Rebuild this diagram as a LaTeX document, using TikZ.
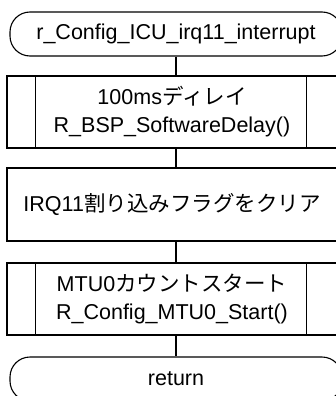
\documentclass[tikz,border=0pt]{standalone}
\usepackage{fontspec}
\setmainfont{Liberation Sans}
\newfontfamily\jp[Scale=1.0]{Noto Sans CJK JP}
\begin{document}
\begin{tikzpicture}[x=1pt,y=-1pt,
  every node/.style={font=\fontsize{21.5}{28}\selectfont, inner sep=0pt, align=center},
  term/.style={draw, line width=1.1pt, rounded corners=20pt, minimum width=332pt, minimum height=44pt},
  procbox/.style={draw, line width=1.1pt, minimum width=330pt},
  conn/.style={line width=1.1pt}]
\useasboundingbox (0,0) rectangle (336,396);
\clip (0,0) rectangle (336,396);
\fill[white] (0,0) rectangle (336,396);
\coordinate (cx) at (176,0);
\node[term] (t1) at (176,34) {r\_Config\_ICU\_irq11\_interrupt};
\node[procbox, minimum height=72pt] (b1) at (172,112) {100ms{\jp ディレイ}\\R\_BSP\_SoftwareDelay()};
\node[procbox, minimum height=73pt] (b2) at (172,204.5) {IRQ11{\jp 割り込みフラグをクリア}};
\node[procbox, minimum height=72pt] (b3) at (172,299) {MTU0{\jp カウントスタート}\\R\_Config\_MTU0\_Start()};
\node[term] (t2) at (176,379) {return};
\foreach \b in {b1,b3}{
  \draw[conn] ([xshift=29pt]\b.north west) -- ([xshift=29pt]\b.south west);
  \draw[conn] ([xshift=300pt]\b.north west) -- ([xshift=300pt]\b.south west);
}
\draw[conn] (t1.south -| cx) -- (b1.north -| cx);
\draw[conn] (b1.south -| cx) -- (b2.north -| cx);
\draw[conn] (b2.south -| cx) -- (b3.north -| cx);
\draw[conn] (b3.south -| cx) -- (t2.north -| cx);
\end{tikzpicture}
\end{document}
